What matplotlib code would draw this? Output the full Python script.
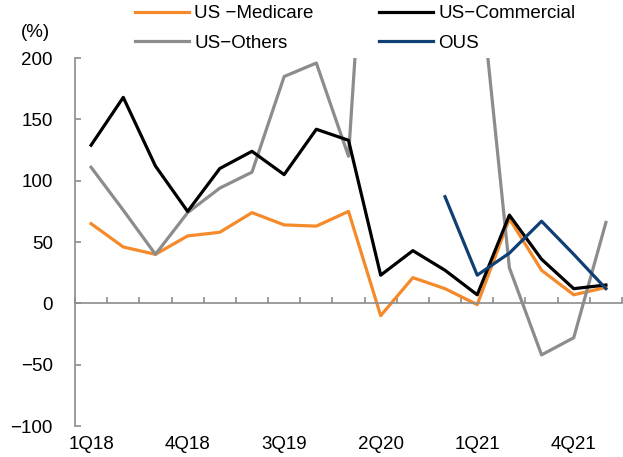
import numpy as np
import matplotlib.pyplot as plt

plt.rcParams['font.family'] = ['Liberation Sans', 'DejaVu Sans']

# 분기 (1Q18 ~ 1Q22)
quarters = ['1Q18', '2Q18', '3Q18', '4Q18', '1Q19', '2Q19', '3Q19', '4Q19',
            '1Q20', '2Q20', '3Q20', '4Q20', '1Q21', '2Q21', '3Q21', '4Q21', '1Q22']

medicare = [65, 46, 40, 55, 58, 74, 64, 63, 75, -10, 21, 12, -1, 69, 27, 7, 13]
commercial = [129, 168, 112, 75, 110, 124, 105, 142, 133, 23, 43, 27, 7, 72, 36, 12, 15]
# 2Q20~1Q21 는 축 범위(200) 밖으로 나감
others = [111, 76, 40, 74, 94, 107, 185, 196, 120, 520, 600, 450, 285, 29, -42, -28, 66]
ous = [np.nan] * 11 + [87, 23, 41, 67, 40, 12]

tick_labels = ['1Q18', '4Q18', '3Q19', '2Q20', '1Q21', '4Q21']

x = np.arange(len(quarters))

fig = plt.figure(figsize=(6.23, 4.57), dpi=100)
ax = fig.add_axes([0.1204, 0.0678, 0.878, 0.805])

ax.plot(x, medicare, color='#F58A2A', lw=2.3, label='US \u2212Medicare')
ax.plot(x, others, color='#8C8C8C', lw=2.3, label='US\u2212Others')
ax.plot(x, commercial, color='#000000', lw=2.3, label='US\u2212Commercial')
ax.plot(x, ous, color='#0F3F73', lw=2.3, label='OUS')

ax.set_ylim(-100, 200)
ax.set_xlim(-0.5, len(quarters) - 0.5)
ax.set_yticks([-100, -50, 0, 50, 100, 150, 200])
ax.set_yticklabels(['\u2212100', '\u221250', '0', '50', '100', '150', '200'])

axis_gray = '#8C8C8C'
for s in ['top', 'right']:
    ax.spines[s].set_visible(False)
ax.spines['left'].set_color(axis_gray)
ax.spines['left'].set_linewidth(1.2)
ax.spines['bottom'].set_position(('data', 0))
ax.spines['bottom'].set_color(axis_gray)
ax.spines['bottom'].set_linewidth(1.2)

ax.tick_params(axis='y', direction='in', length=4, width=1.2, color=axis_gray,
               labelsize=13.5, pad=16)
# 분기 경계 눈금 (0 기준선 위)
ax.set_xticks(np.arange(len(quarters) + 1) - 0.5, minor=True)
ax.set_xticks([])
ax.tick_params(axis='x', which='minor', direction='in', length=4, width=1.2,
               color=axis_gray)

sec = ax.secondary_xaxis(0.0)
sec.set_xticks(x[::3])
sec.set_xticklabels(tick_labels)
sec.spines['bottom'].set_visible(False)
sec.tick_params(axis='x', length=0, labelsize=13.5, pad=7)

fig.text(0.033, 0.928, '(%)', fontsize=13.5, va='center', ha='left')

handles, labels = ax.get_legend_handles_labels()
leg = fig.legend(handles, labels, ncol=2, loc='center', bbox_to_anchor=(0.57, 0.938),
                 frameon=False, fontsize=13.5, handlelength=2.9, handletextpad=0.25,
                 columnspacing=3.5, labelspacing=0.65)

fig.savefig('out.png', dpi=100)
